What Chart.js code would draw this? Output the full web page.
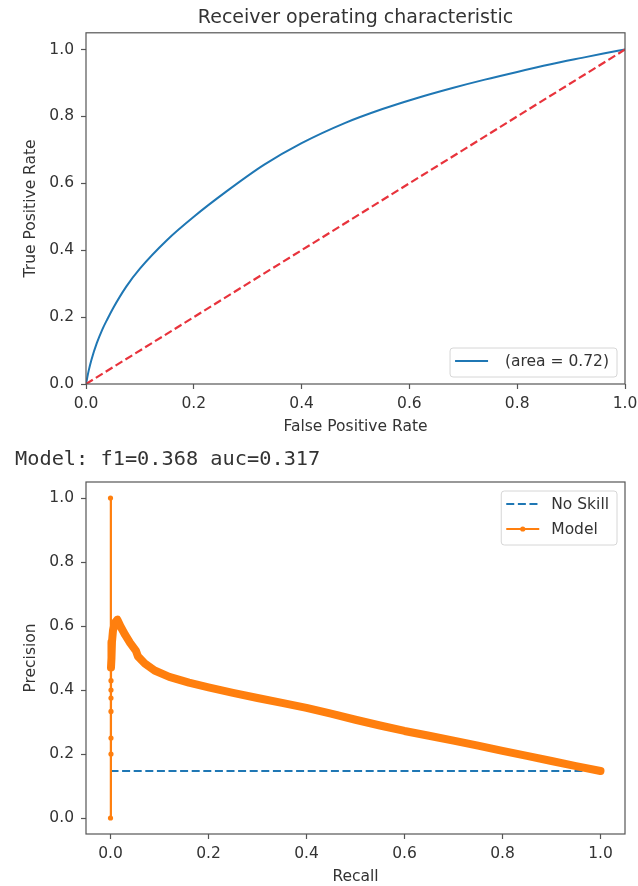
<!DOCTYPE html>
<html>
<head>
<meta charset="utf-8">
<script src="https://cdn.jsdelivr.net/npm/chart.js@4.4.1/dist/chart.umd.min.js"></script>
<style>
  body { margin: 0; background: #fff; }
  #page { position: relative; width: 638px; height: 886px; }
  #roc { position: absolute; left: 0; top: 0; }
  #pr { position: absolute; left: 0; top: 440px; }
  #scores { position: absolute; left: 15px; top: 448px; font: 20.3px/20px "DejaVu Sans Mono", monospace; color: #333; white-space: pre; }
</style>
</head>
<body>
<div id="page">
  <canvas id="roc" width="638" height="440"></canvas>
  <canvas id="pr" width="638" height="446"></canvas>
  <div id="scores"></div>
</div>
<script>
// ROC curve
const rocFpr = [0, 0.005, 0.01, 0.02, 0.03, 0.04, 0.05, 0.075, 0.1, 0.15, 0.2, 0.26, 0.33, 0.4, 0.48, 0.55, 0.61, 0.68, 0.74, 0.8, 0.86, 0.92, 0.96, 1.0];
const rocTpr = [0, 0.04, 0.072, 0.122, 0.162, 0.195, 0.226, 0.292, 0.345, 0.43, 0.5, 0.575, 0.655, 0.72, 0.78, 0.822, 0.853, 0.885, 0.91, 0.933, 0.955, 0.975, 0.988, 1.0];
const chanceLine = [0, 1];
const rocAuc = 0.72;

// precision-recall curve (recall descending, as returned by the metric)
const prRecall = [1.0, 0.95, 0.9, 0.85, 0.8, 0.75, 0.7, 0.65, 0.6, 0.55, 0.5, 0.45, 0.4, 0.35, 0.3, 0.25, 0.2, 0.16, 0.12, 0.09, 0.07, 0.056, 0.052, 0.04, 0.03, 0.02, 0.014, 0.009, 0.005, 0.003, 0.002, 0.001, 0.001, 0.001, 0.001, 0.001, 0.001, 0.001, 0, 0];
const prPrecision = [0.147, 0.162, 0.178, 0.194, 0.21, 0.226, 0.242, 0.257, 0.272, 0.289, 0.307, 0.326, 0.344, 0.36, 0.375, 0.391, 0.408, 0.423, 0.441, 0.461, 0.483, 0.505, 0.522, 0.547, 0.572, 0.6, 0.62, 0.61, 0.585, 0.55, 0.5, 0.47, 0.429, 0.4, 0.375, 0.333, 0.25, 0.2, 0, 1];
const noSkillRecall = [0, 1];
const noSkillPrecision = [0.147, 0.147];
const modelF1 = 0.368;
const modelAuc = 0.317;

const tickValues = [0, 0.2, 0.4, 0.6, 0.8, 1.0];

const FONT = '"DejaVu Sans", sans-serif';
const INK = '#333';
const SPINE = '#555';

document.getElementById('scores').textContent =
  `Model: f1=${modelF1.toFixed(3)} auc=${modelAuc.toFixed(3)}`;

function axis(min, max, title, o) {
  return {
    type: 'linear',
    min, max,
    afterBuildTicks: s => { s.ticks = tickValues.map(v => ({ value: v })); },
    afterFit: s => {
      // fixed axis sizes; edge labels may overhang like matplotlib's
      if (s.isHorizontal()) { s.height = o.size; s.paddingLeft = 0; s.paddingRight = 0; }
      else { s.width = o.size; s.paddingTop = 0; s.paddingBottom = 0; }
    },
    border: { display: false },
    grid: { drawOnChartArea: false, drawTicks: true, tickLength: 5, tickWidth: 1.2, color: SPINE },
    ticks: {
      color: INK, font: { family: FONT, size: 15.5 }, padding: o.tickPad,
      maxRotation: 0, autoSkip: false, callback: v => v.toFixed(1)
    },
    title: { display: true, text: title, color: INK, font: { family: FONT, size: 15.5 }, padding: o.titlePad }
  };
}

const points = (xs, ys) => xs.map((x, i) => ({ x, y: ys[i] }));

// axes box on all four sides
const frame = {
  id: 'frame',
  afterDatasetsDraw(chart) {
    const { ctx, chartArea: a } = chart;
    ctx.save();
    ctx.strokeStyle = SPINE;
    ctx.lineWidth = 1.2;
    ctx.strokeRect(a.left, a.top, a.right - a.left, a.bottom - a.top);
    ctx.restore();
  }
};

// legend drawn inside the plot area, anchored to the right
const boxLegend = {
  id: 'boxLegend',
  afterDraw(chart, args, opts) {
    const { ctx, chartArea: a } = chart;
    const items = chart.data.datasets.filter(ds => ds.label);
    ctx.save();
    ctx.font = `15.5px ${FONT}`;
    const textW = Math.max(...items.map(ds => ctx.measureText(ds.label).width));
    const w = 50 + textW + 8;
    const h = items.length * 25 + 4;
    const x = a.right - 8 - w;
    const y = opts.corner === 'top' ? a.top + 9 : a.bottom - 7 - h;
    ctx.beginPath();
    if (ctx.roundRect) ctx.roundRect(x, y, w, h, 3); else ctx.rect(x, y, w, h);
    ctx.fillStyle = 'rgba(255,255,255,0.85)';
    ctx.fill();
    ctx.strokeStyle = '#d6d6d6';
    ctx.lineWidth = 1;
    ctx.stroke();
    items.forEach((ds, i) => {
      const cy = y + 13 + 25 * i;
      ctx.beginPath();
      ctx.setLineDash(ds.borderDash || []);
      ctx.strokeStyle = ds.borderColor;
      ctx.lineWidth = 2.2;
      ctx.moveTo(x + 5, cy);
      ctx.lineTo(x + 38, cy);
      ctx.stroke();
      ctx.setLineDash([]);
      if (ds.legendMarker) {
        ctx.beginPath();
        ctx.arc(x + 21.5, cy, 2.6, 0, Math.PI * 2);
        ctx.fillStyle = ds.borderColor;
        ctx.fill();
      }
      ctx.fillStyle = INK;
      ctx.textAlign = 'left';
      ctx.textBaseline = 'middle';
      ctx.fillText(ds.label, x + 50, cy + 1);
    });
    ctx.restore();
  }
};

new Chart(document.getElementById('roc'), {
  type: 'line',
  data: {
    datasets: [
      {
        label: ` (area = ${rocAuc.toFixed(2)})`,
        data: points(rocFpr, rocTpr),
        borderColor: '#1f77b4',
        borderWidth: 2,
        pointRadius: 0,
        cubicInterpolationMode: 'monotone',
        order: 2
      },
      {
        data: points(chanceLine, chanceLine),
        borderColor: '#e8333c',
        borderWidth: 2.2,
        borderDash: [8, 3.6],
        pointRadius: 0,
        order: 1
      }
    ]
  },
  options: {
    responsive: false,
    animation: false,
    layout: { padding: { left: 0, right: 13, top: 0, bottom: 0 } },
    scales: {
      x: axis(0, 1, 'False Positive Rate', { size: 56, tickPad: 6, titlePad: { top: 0, bottom: 4 } }),
      y: axis(0, 1.05, 'True Positive Rate', { size: 86, tickPad: 7, titlePad: { top: 22, bottom: 0 } })
    },
    plugins: {
      legend: { display: false },
      tooltip: { enabled: false },
      title: {
        display: true,
        fullSize: false,
        text: 'Receiver operating characteristic',
        color: INK,
        font: { family: FONT, size: 19, weight: 'normal' },
        padding: { top: 7, bottom: 3 }
      },
      boxLegend: { corner: 'bottom' }
    }
  },
  plugins: [frame, boxLegend]
});

new Chart(document.getElementById('pr'), {
  type: 'line',
  data: {
    datasets: [
      {
        label: 'No Skill',
        data: points(noSkillRecall, noSkillPrecision),
        borderColor: '#1f77b4',
        borderWidth: 2,
        borderDash: [8, 3.6],
        pointRadius: 0,
        order: 2
      },
      {
        label: 'Model',
        legendMarker: true,
        data: points(prRecall, prPrecision),
        borderColor: '#ff7f0e',
        backgroundColor: '#ff7f0e',
        borderWidth: 2.2,
        borderCapStyle: 'round',
        borderJoinStyle: 'round',
        // the long run of thresholds piles markers into a thick band;
        // only the few top thresholds on the recall=0 edge stay thin
        segment: {
          borderWidth: c => {
            const i = c.p0DataIndex, j = c.p1DataIndex;
            const edge = Math.min(prRecall[i], prRecall[j]) < 0.001 ||
                         (Math.max(prRecall[i], prRecall[j]) <= 0.001 &&
                          Math.min(prPrecision[i], prPrecision[j]) < 0.47);
            return edge ? 2.2 : 8;
          }
        },
        pointRadius: c => prRecall[c.dataIndex] < 0.0025 ? 2.6 : 0,
        pointBorderWidth: 0,
        pointBackgroundColor: '#ff7f0e',
        order: 1
      }
    ]
  },
  options: {
    responsive: false,
    animation: false,
    layout: { padding: { left: 0, right: 13, top: 42, bottom: 0 } },
    scales: {
      x: axis(-0.05, 1.05, 'Recall', { size: 52, tickPad: 6, titlePad: { top: 0, bottom: 0 } }),
      y: axis(-0.05, 1.05, 'Precision', { size: 86, tickPad: 7, titlePad: { top: 22, bottom: 0 } })
    },
    plugins: {
      legend: { display: false },
      tooltip: { enabled: false },
      boxLegend: { corner: 'top' }
    }
  },
  plugins: [frame, boxLegend]
});
</script>
</body>
</html>
